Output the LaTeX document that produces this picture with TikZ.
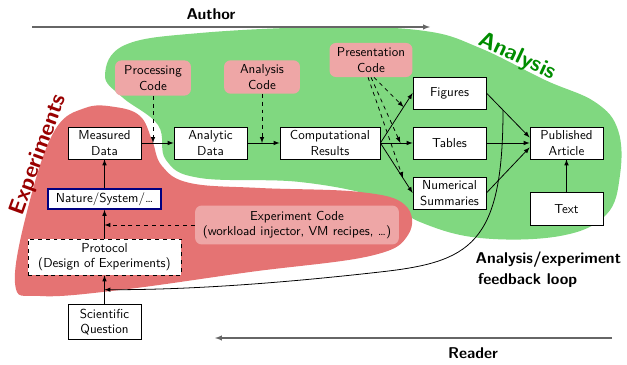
\documentclass[tikz,border=0pt]{standalone}
\usetikzlibrary{positioning,arrows,calc}
\tikzset{>=latex}
\definecolor{anaGreen}{RGB}{128,216,128}
\definecolor{expRed}{RGB}{229,115,115}
\definecolor{codeRed}{RGB}{238,166,166}
\colorlet{expText}{red!60!black}
\colorlet{anaText}{green!55!black}
\colorlet{barColor}{black!60}

\begin{document}
\begin{tikzpicture}[x=0.027cm,y=-0.027cm,font=\sffamily,
    box/.style={draw,semithick,fill=white,minimum width=1.97cm,minimum height=0.86cm,align=center,inner sep=1pt},
    code/.style={fill=codeRed,rounded corners=5pt,minimum width=2.05cm,minimum height=0.95cm,align=center,inner sep=1pt},
    title/.style={font=\sffamily\large\bfseries},
    flow/.style={->,semithick},
    codeflow/.style={->,semithick,dashed}]
  \useasboundingbox (0,0) rectangle (627,365);
  % the two regions
  \fill[anaGreen] plot[smooth cycle,tension=0.65] coordinates {(105,75) (125,45) (200,33) (330,27) (425,31) (480,48) (545,80) (595,102) (618,130) (620,175) (606,215) (560,236) (480,238) (420,222) (380,198) (300,182) (200,178) (166,160) (158,125) (122,97)};
  \fill[expRed] plot[smooth cycle,tension=0.65] coordinates {(15,283) (30,200) (55,130) (85,108) (115,107) (140,116) (152,140) (162,166) (190,183) (260,188) (360,192) (405,205) (408,235) (370,256) (250,272) (120,290) (40,296)};
  \node[font=\sffamily\LARGE\bfseries,text=expText,rotate=70] (explabel) at (39,155) {Experiments};
  \node[font=\sffamily\LARGE\bfseries,text=anaText,rotate=-25] (analabel) at (517,57) {Analysis};

  % author / reader
  \coordinate (authstart) at (32,27);
  \coordinate (authend) at (430,27);
  \draw[barColor,thick,->] (authstart) -- (authend);
  \node[title] (author) at (211,14) {Author};
  \coordinate (readstart) at (612,338);
  \coordinate (readend) at (215,338);
  \draw[barColor,thick,->] (readstart) -- (readend);
  \node[title] (reader) at (473,353) {Reader};

  % boxes
  \node[box] (measured) at (104.5,143) {Measured\\Data};
  \node[box] (analytic) at (210.5,143) {Analytic\\Data};
  \node[box,minimum width=2.7cm] (results) at (330,143) {Computational\\Results};
  \node[box] (figures) at (449.5,93) {Figures};
  \node[box] (tables) at (449.5,143) {Tables};
  \node[box] (summaries) at (449.5,193) {Numerical\\Summaries};
  \node[box] (article) at (566.5,143) {Published\\Article};
  \node[box,minimum height=0.89cm] (text) at (566.5,209) {Text};
  \node[box,draw=blue!50!black,very thick,minimum width=3.05cm,minimum height=0.54cm] (nature) at (104.5,199) {Nature/System/\ldots};
  \node[box,dashed,minimum width=4.13cm,minimum height=0.97cm] (protocol) at (104.5,257) {Protocol\\(Design of Experiments)};
  \node[box,minimum height=0.95cm] (question) at (104.5,322) {Scientific\\Question};
  \node[code] (proccode) at (153,78) {Processing\\Code};
  \node[code,minimum height=0.9cm] (anacode) at (262,77) {Analysis\\Code};
  \node[code,minimum width=2.24cm,minimum height=0.92cm] (prescode) at (371,60) {Presentation\\Code};
  \node[code,minimum width=5.5cm,minimum height=1.05cm] (expcode) at (297,225) {Experiment Code\\(workload injector, VM recipes, \ldots)};

  % data flow
  \draw[flow] (measured) -- (analytic);
  \draw[flow] (analytic) -- (results);
  \draw[flow] (results.east) -- (figures.west);
  \draw[flow] (results.east) -- (tables.west);
  \draw[flow] (results.east) -- (summaries.west);
  \draw[flow] (figures.east) -- ([yshift=0.15cm]article.west);
  \draw[flow] (tables.east) -- (article.west);
  \draw[flow] (summaries.east) -- ([yshift=-0.12cm]article.west);
  \draw[flow] (text) -- (article);
  \draw[flow] (question) -- (protocol);
  \draw[flow] (protocol) -- (nature);
  \draw[flow] (nature) -- (measured);

  % code
  \draw[codeflow] (proccode) -- (proccode |- measured);
  \draw[codeflow] (anacode) -- (anacode |- analytic);
  \draw[codeflow] ([xshift=0.08cm]prescode.south) -- ($(results.east)!0.72!(figures.west)$);
  \draw[codeflow] (prescode.south) -- ($(results.east)!0.62!(tables.west)$);
  \draw[codeflow] ([xshift=-0.08cm]prescode.south) -- ($(results.east)!0.7!(summaries.west)$);
  \draw[codeflow] (expcode.west) -- (expcode.west -| nature);

  % feedback loop
  \coordinate (loopstart) at (503,110);
  \coordinate (loopend) at ($(protocol.south)!0.5!(question.north)$);
  \draw[flow] (loopstart) .. controls (503,245) and (470,262) .. (380,272)
    .. controls (300,281) and (200,290) .. (loopend);
  \node[title,align=left,anchor=north west] (looplabel) at (471,247) {Analysis/experiment\\[2pt]\,feedback loop};
\end{tikzpicture}
\end{document}
